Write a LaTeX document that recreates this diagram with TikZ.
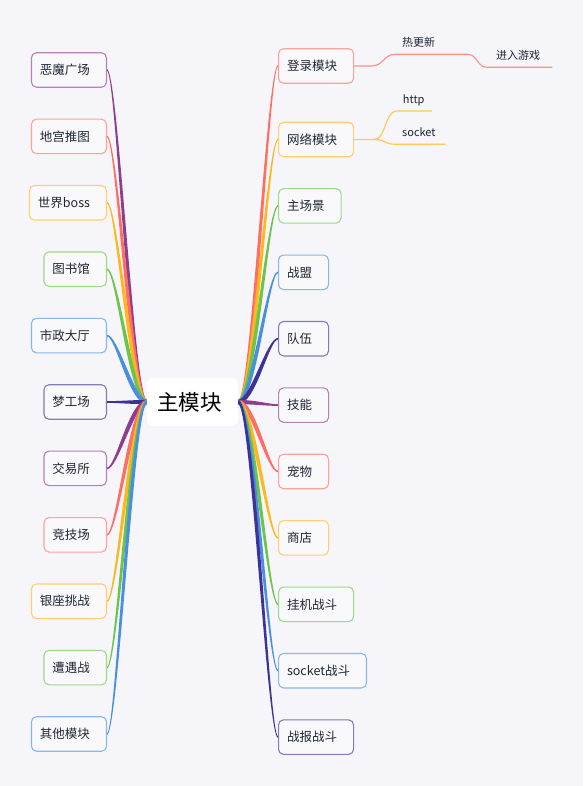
\documentclass[tikz,border=0pt]{standalone}
\usepackage{fontspec}
\setmainfont{Noto Sans CJK SC}
\usetikzlibrary{calc}
\definecolor{bg}{HTML}{F5F5FA}
\definecolor{ink}{HTML}{1E2633}
\definecolor{cred}{HTML}{FF6E61}
\definecolor{cyel}{HTML}{FFB71F}
\definecolor{cgrn}{HTML}{6CC44B}
\definecolor{cblu}{HTML}{4A8EE0}
\definecolor{cind}{HTML}{3D3296}
\definecolor{cpur}{HTML}{8E3E8E}
% tapered branch: colour, from, to, c1 dx, c2 dx, side
\newcommand{\limb}[6]{%
  \fill[#1] ($(#2)+(0,-2.1)$) .. controls +({#4+(#6)*2.7},0) and +({#5+(#6)*1.1},0) .. ($(#3)+(0,-0.8)$)
    -- ($(#3)+(0,0.8)$) .. controls +({#5-(#6)*1.1},0) and +({#4-(#6)*2.7},0) .. ($(#2)+(0,2.1)$) -- cycle;}
\tikzset{
  hub/.style={fill=white, rounded corners=6pt, inner xsep=10pt, minimum height=47.7pt,
    font=\fontsize{21.5}{24}\selectfont, execute at end node={\hspace*{6.5pt}}},
  topic/.style={draw=#1!65, fill=white!40!bg, line width=1.1pt, rounded corners=5pt,
    inner xsep=8.5pt, minimum height=34.5pt, text=ink,
    font=\fontsize{12.5}{15}\selectfont, execute at end node={\hspace*{8pt}}},
  sub/.style={anchor=south west, inner xsep=6pt, inner ysep=7.5pt, text depth=0pt,
    align=left, text=ink, font=\fontsize{11}{13}\selectfont},
}
\begin{document}
\begin{tikzpicture}[x=1pt,y=-1pt]
\path[fill=bg] (0,0) rectangle (583,786);

\node[hub] (main) at (192.5,402) {主模块};

% left side
\node[topic=cpur,anchor=east] (emo) at (107,70) {恶魔广场};
\node[topic=cred,anchor=east] (digong) at (107,136.4) {地宫推图};
\node[topic=cyel,anchor=east] (boss) at (107,202.8) {世界boss};
\node[topic=cgrn,anchor=east] (lib) at (107,269.2) {图书馆};
\node[topic=cblu,anchor=east] (hall) at (107,335.6) {市政大厅};
\node[topic=cind,anchor=east] (dream) at (107,402) {梦工场};
\node[topic=cpur,anchor=east] (trade) at (107,468.4) {交易所};
\node[topic=cred,anchor=east] (arena) at (107,534.8) {竞技场};
\node[topic=cyel,anchor=east] (silver) at (107,601.2) {银座挑战};
\node[topic=cgrn,anchor=east] (meet) at (107,667.6) {遭遇战};
\node[topic=cblu,anchor=east] (other) at (107,734) {其他模块};

% right side
\node[topic=cred,anchor=west] (login) at (278,66) {登录模块};
\node[topic=cyel,anchor=west] (net) at (278,139.5) {网络模块};
\node[topic=cgrn,anchor=west] (scene) at (278,205.9) {主场景};
\node[topic=cblu,anchor=west] (guild) at (278,272.3) {战盟};
\node[topic=cind,anchor=west] (team) at (278,338.7) {队伍};
\node[topic=cpur,anchor=west] (skill) at (278,405.1) {技能};
\node[topic=cred,anchor=west] (pet) at (278,471.5) {宠物};
\node[topic=cyel,anchor=west] (shop) at (278,537.9) {商店};
\node[topic=cgrn,anchor=west] (idle) at (278,604.3) {挂机战斗};
\node[topic=cblu,anchor=west] (sockfight) at (278,670.7) {socket战斗};
\node[topic=cind,anchor=west] (report) at (278,737.1) {战报战斗};

% branches
\limb{cpur}{main.west}{emo.east}{-15}{10}{1}
\limb{cred}{main.west}{digong.east}{-15}{10}{1}
\limb{cyel}{main.west}{boss.east}{-15}{10}{1}
\limb{cgrn}{main.west}{lib.east}{-15}{10}{1}
\limb{cblu}{main.west}{hall.east}{-15}{10}{1}
\limb{cind}{main.west}{dream.east}{-15}{10}{1}
\limb{cpur}{main.west}{trade.east}{-15}{10}{-1}
\limb{cred}{main.west}{arena.east}{-15}{10}{-1}
\limb{cyel}{main.west}{silver.east}{-15}{10}{-1}
\limb{cgrn}{main.west}{meet.east}{-15}{10}{-1}
\limb{cblu}{main.west}{other.east}{-15}{10}{-1}

\limb{cred}{main.east}{login.west}{15}{-10}{-1}
\limb{cyel}{main.east}{net.west}{15}{-10}{-1}
\limb{cgrn}{main.east}{scene.west}{15}{-10}{-1}
\limb{cblu}{main.east}{guild.west}{15}{-10}{-1}
\limb{cind}{main.east}{team.west}{15}{-10}{-1}
\limb{cpur}{main.east}{skill.west}{15}{-10}{1}
\limb{cred}{main.east}{pet.west}{15}{-10}{1}
\limb{cyel}{main.east}{shop.west}{15}{-10}{1}
\limb{cgrn}{main.east}{idle.west}{15}{-10}{1}
\limb{cblu}{main.east}{sockfight.west}{15}{-10}{1}
\limb{cind}{main.east}{report.west}{15}{-10}{1}

% sub topics
\node[sub,text width=59pt] (hot) at (396,54.3) {热更新};
\node[sub,inner xsep=9pt,text width=47pt] (enter) at (487,67.3) {进入游戏};
\node[sub,text width=23pt] (http) at (396.7,111) {http};
\node[sub,text width=37pt] (sock) at (396,144.3) {socket};

\draw[cred!75,line width=1.2pt] (login.east) -- ++(17,0) .. controls +(13,0) and +(-13,0) .. (hot.south west) -- (hot.south east)
  .. controls +(10,0) and +(-10,0) .. (enter.south west) -- (enter.south east);
\draw[cyel!75,line width=1.2pt] (net.east) -- ++(20,0) coordinate (netfork)
  .. controls +(12,0) and +(-12,0) .. (http.south west) -- (http.south east);
\draw[cyel!75,line width=1.2pt] (netfork) .. controls +(12,0) and +(-12,0) .. (sock.south west) -- (sock.south east);

\end{tikzpicture}
\end{document}
